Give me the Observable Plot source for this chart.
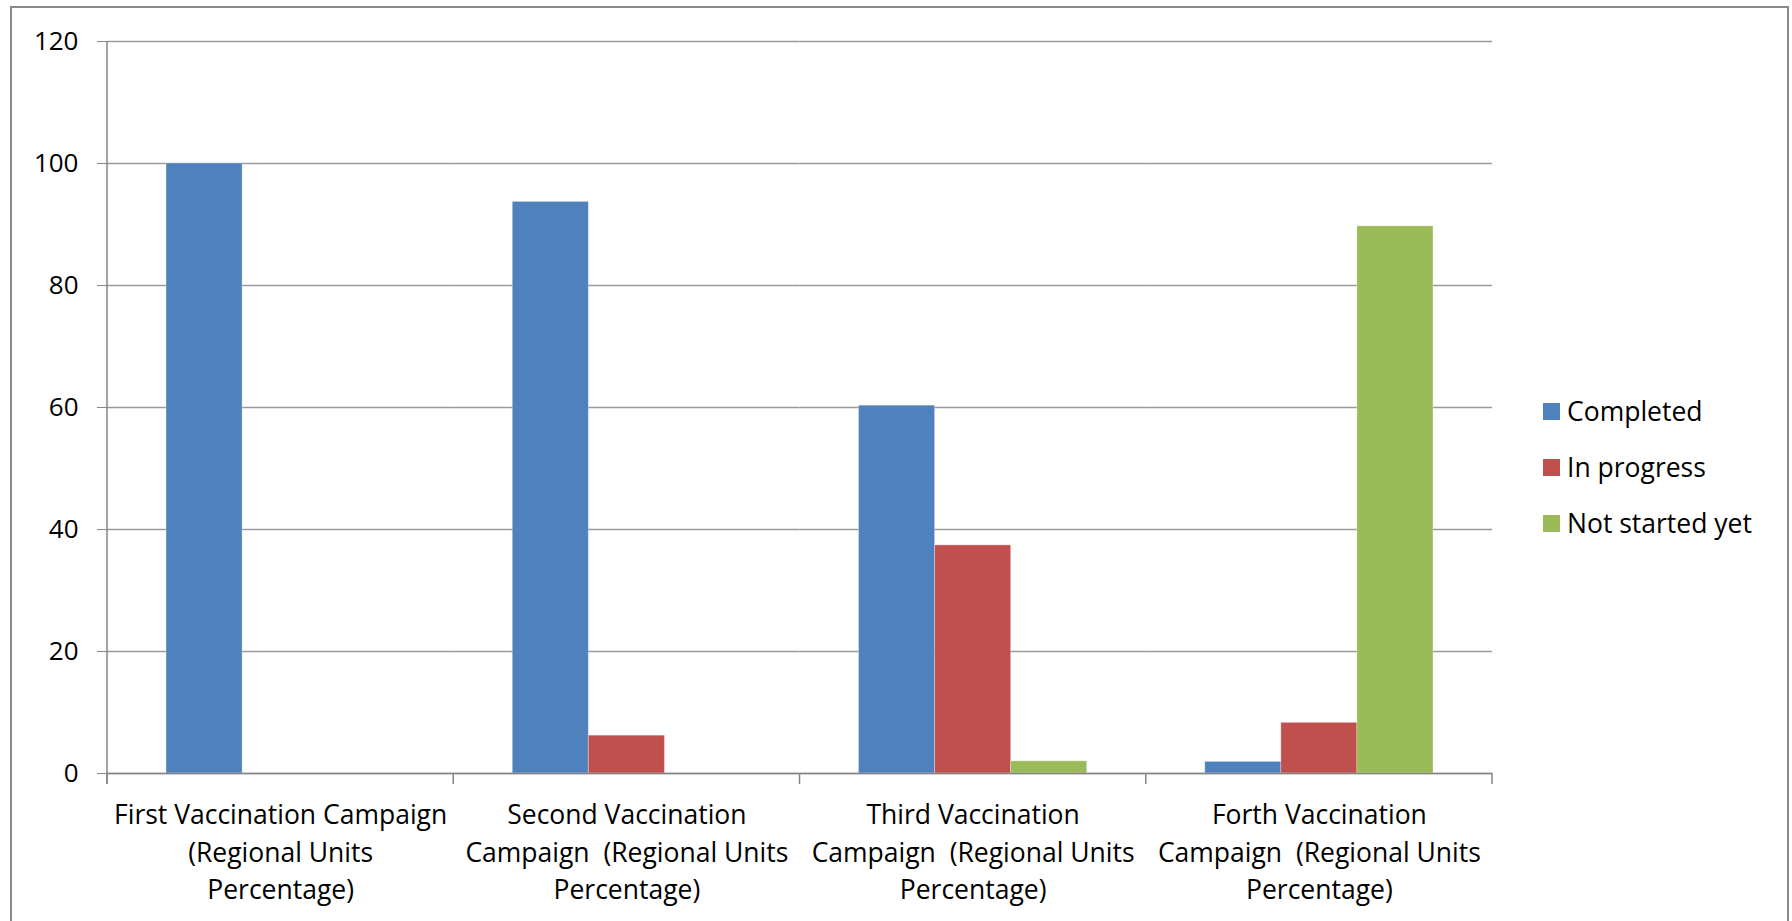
<!DOCTYPE html>
<html><head><meta charset="utf-8">
<script src="https://cdn.jsdelivr.net/npm/d3@7"></script>
<script src="https://cdn.jsdelivr.net/npm/@observablehq/plot@0.6"></script>
<style>
body{margin:0;background:#fff;font-family:"Open Sans",Lato,sans-serif;}
#wrap{position:relative;width:1792px;height:921px;overflow:hidden;background:#fff;}
#border{position:absolute;left:10px;top:6px;width:1779px;height:1000px;border:2px solid #8a8a8a;box-sizing:border-box;}
#chart{position:absolute;left:0;top:0;}
#legend{position:absolute;left:1543px;top:383px;font-size:26.5px;color:#000;}
.item{display:flex;align-items:center;height:56px;}
.sw{width:17px;height:17px;margin-right:7px;}
</style></head><body>
<div id="wrap"><div id="border"></div><div id="chart"></div><div id="legend"></div></div>
<script>
const categories = [
  "First Vaccination Campaign\n(Regional Units\nPercentage)",
  "Second Vaccination\nCampaign  (Regional Units\nPercentage)",
  "Third Vaccination\nCampaign  (Regional Units\nPercentage)",
  "Forth Vaccination\nCampaign  (Regional Units\nPercentage)"
];
const series = ["Completed", "In progress", "Not started yet"];
const completed  = [100, 93.7, 60.3, 1.9];
const inProgress = [0, 6.2, 37.4, 8.3];
const notStarted = [0, 0, 2.0, 89.7];
const yTicks = [0, 20, 40, 60, 80, 100, 120];
const colors = ["#4F81BD", "#C0504D", "#9BBB59"];

const valuesBySeries = [completed, inProgress, notStarted];
const data = categories.flatMap((c, i) =>
  series.map((s, j) => ({category: c, series: s, value: valuesBySeries[j][i]})));

const chart = Plot.plot({
  width: 1792, height: 921,
  marginLeft: 107, marginRight: 300, marginTop: 41, marginBottom: 148,
  style: {fontFamily: "'Open Sans', Lato, sans-serif", fontSize: "26px", color: "#000", background: "transparent"},
  fx: {domain: categories, padding: 0, round: false, label: null},
  x: {domain: series, paddingInner: 0, paddingOuter: 0.776, round: false, axis: null},
  y: {domain: [0, 120], label: null},
  color: {domain: series, range: colors},
  marks: [
    Plot.gridY({ticks: yTicks, stroke: "#9a9a9a", strokeOpacity: 1, strokeWidth: 1.4}),
    Plot.barY(data, {fx: "category", x: "series", y: "value", fill: "series", stroke: "#ffffff", strokeOpacity: 0.3, strokeWidth: 1}),
    Plot.ruleY([0], {stroke: "#868686", strokeWidth: 1.5}),
    Plot.axisY({ticks: yTicks, tickSize: 10, tickPadding: 19, stroke: "#868686", fill: "#000", fontSize: 26, label: null}),
    Plot.axisFx({anchor: "bottom", tickSize: 0, tickPadding: 24, label: null, lineHeight: 1.42, fontSize: 26.5, fill: "#000"})
  ]
});
document.getElementById("chart").appendChild(chart);

// axis domain line and category boundary ticks, positioned from the scales
const fx = chart.scale("fx"), y = chart.scale("y");
const svg = d3.select(chart);
const g = svg.append("g").attr("stroke", "#868686").attr("stroke-width", 1.5);
const x0 = fx.apply(categories[0]);
g.append("line").attr("x1", x0).attr("x2", x0).attr("y1", y.apply(0) + 11).attr("y2", y.apply(120));
const bounds = categories.map(c => fx.apply(c)).concat([fx.apply(categories[categories.length - 1]) + fx.bandwidth]);
bounds.forEach(b => g.append("line").attr("x1", b).attr("x2", b).attr("y1", y.apply(0)).attr("y2", y.apply(0) + 11));

// legend
const color = chart.scale("color");
const legend = d3.select("#legend");
color.domain.forEach((s, i) => {
  const it = legend.append("div").attr("class", "item");
  it.append("div").attr("class", "sw").style("background", color.range[i]);
  it.append("span").text(s);
});
</script>
</body></html>
